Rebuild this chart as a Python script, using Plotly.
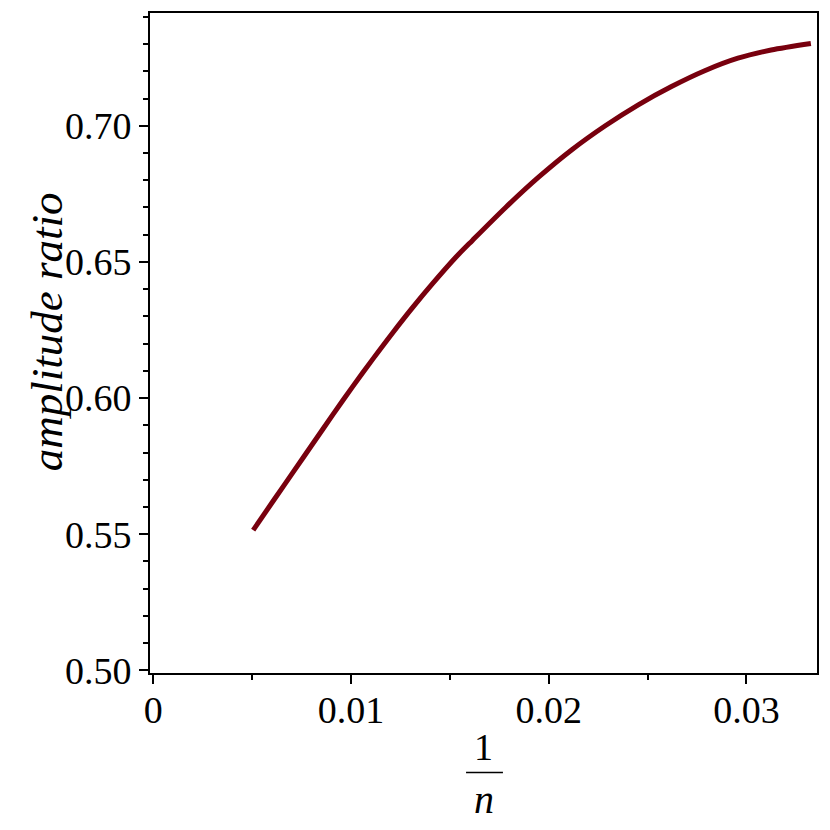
import plotly.graph_objects as go

# Data
inv_n = [0.00505, 0.00606, 0.00707, 0.00808, 0.00908, 0.01009, 0.01110, 0.01211,
         0.01311, 0.01412, 0.01530, 0.01614, 0.01782, 0.01950, 0.02117, 0.02286,
         0.02453, 0.02621, 0.02789, 0.02957, 0.03125, 0.03326]
ratio = [0.5515, 0.5622, 0.5728, 0.5834, 0.5939, 0.6043, 0.6143, 0.6240,
         0.6332, 0.6420, 0.6517, 0.6579, 0.6700, 0.6812, 0.6912, 0.7000,
         0.7077, 0.7144, 0.7202, 0.7248, 0.7278, 0.7302]

x_tickvals = [0, 0.01, 0.02, 0.03]
x_ticktext = ["0", "0.01", "0.02", "0.03"]
y_tickvals = [0.50, 0.55, 0.60, 0.65, 0.70]
y_ticktext = ["0.50", "0.55", "0.60", "0.65", "0.70"]

W, H = 830, 830
ML, MR, MT, MB = 150, 11, 13, 157
PW, PH = W - ML - MR, H - MT - MB


def px_x(px):
    return (px - ML) / PW


def px_y(py):
    return (H - MB - py) / PH


FONT = "Liberation Serif, Times New Roman, serif"
COLOR = "#78000E"

fig = go.Figure()
fig.add_trace(go.Scatter(
    x=inv_n, y=ratio, mode="lines",
    line=dict(color=COLOR, width=5, shape="spline", smoothing=0.8),
    showlegend=False, hoverinfo="skip",
))

axis_common = dict(
    showline=True, linecolor="black", linewidth=2, mirror=True,
    ticks="outside", ticklen=9, tickwidth=2, tickcolor="black",
    showgrid=False, zeroline=False,
    tickfont=dict(family=FONT, size=38, color="black"),
)

fig.update_xaxes(
    range=[-0.00017, 0.03357],
    tickmode="array", tickvals=x_tickvals, ticktext=x_ticktext,
    minor=dict(ticks="outside", ticklen=5, tickwidth=2, tickcolor="black",
               tick0=0, dtick=0.005),
    ticklabelstandoff=-7,
    **axis_common,
)
fig.update_yaxes(
    range=[0.49905, 0.7414],
    tickmode="array", tickvals=y_tickvals, ticktext=y_ticktext,
    minor=dict(ticks="outside", ticklen=5, tickwidth=2, tickcolor="black",
               tick0=0.5, dtick=0.01),
    **axis_common,
)

annotations = [
    dict(text="<i>amplitude ratio</i>", xref="paper", yref="paper",
         x=px_x(47), y=px_y(332), xanchor="center", yanchor="middle",
         textangle=-90, showarrow=False,
         font=dict(family=FONT, size=45, color="black")),
    dict(text="1", xref="paper", yref="paper",
         x=px_x(485), y=px_y(747), xanchor="center", yanchor="middle",
         showarrow=False, font=dict(family=FONT, size=38, color="black")),
    dict(text="<i>n</i>", xref="paper", yref="paper",
         x=px_x(485), y=px_y(799), xanchor="center", yanchor="middle",
         showarrow=False, font=dict(family=FONT, size=40, color="black")),
]

shapes = [
    dict(type="line", xref="paper", yref="paper",
         x0=px_x(467), x1=px_x(504), y0=px_y(772.5), y1=px_y(772.5),
         line=dict(color="black", width=1.5)),
]

fig.update_layout(
    width=W, height=H,
    margin=dict(l=ML, r=MR, t=MT, b=MB, pad=0),
    paper_bgcolor="white", plot_bgcolor="white",
    annotations=annotations, shapes=shapes,
    font=dict(family=FONT, color="black"),
)

fig.write_html(
    "out.html",
    config={"displayModeBar": False, "staticPlot": True},
    post_script="document.body.style.margin='0';document.body.style.overflow='hidden';",
)
